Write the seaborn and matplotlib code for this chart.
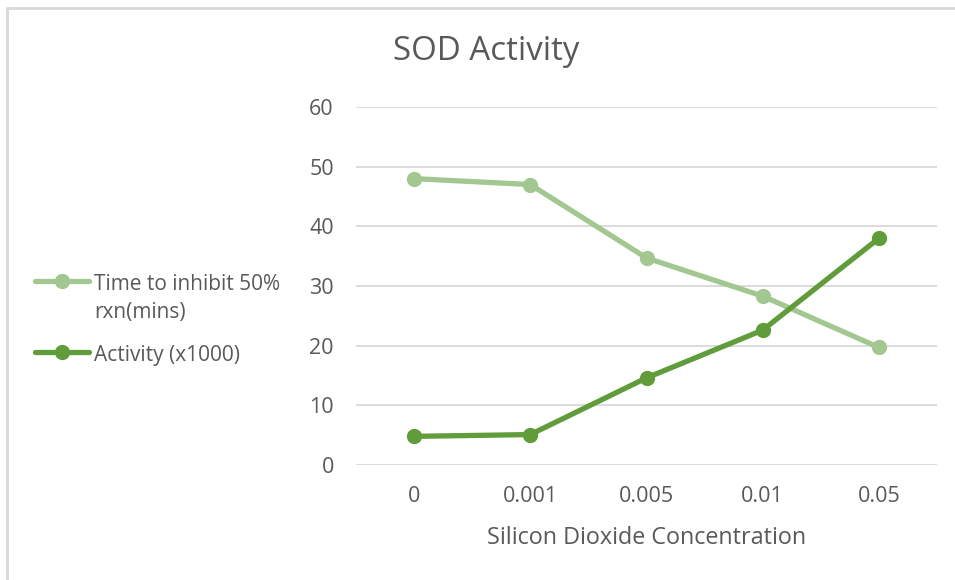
import matplotlib
matplotlib.use("Agg")
import matplotlib.pyplot as plt
import seaborn as sns
import pandas as pd
from matplotlib.lines import Line2D

# ---- data ----
concentrations = ["0", "0.001", "0.005", "0.01", "0.05"]
time_to_inhibit = [48.0, 47.0, 34.7, 28.3, 19.7]
activity = [4.8, 5.1, 14.6, 22.6, 38.0]
series_names = ["Time to inhibit 50%\nrxn(mins)", "Activity (x1000)"]
y_ticks = [0, 10, 20, 30, 40, 50, 60]
title = "SOD Activity"
x_title = "Silicon Dioxide Concentration"

light_green = "#A2C790"
dark_green = "#609C3A"
text_grey = "#595959"
grid_grey = "#D9D9D9"

sns.set_theme(style="white")
plt.rcParams['font.family'] = ['Open Sans', 'DejaVu Sans']

df = pd.DataFrame({
    "Concentration": concentrations * 2,
    "Value": time_to_inhibit + activity,
    "Series": [series_names[0]] * len(concentrations) + [series_names[1]] * len(concentrations),
})

W, H = 955, 580
fig = plt.figure(figsize=(W / 100, H / 100), dpi=100)
ax = fig.add_axes([356 / W, 1 - 465 / H, (937 - 356) / W, (465 - 107) / H])

sns.lineplot(data=df, x="Concentration", y="Value", hue="Series",
             palette=[light_green, dark_green], marker="o", markersize=11,
             linewidth=3.8, markeredgewidth=0, ax=ax, legend=False, sort=False)

ax.set_xlim(-0.5, len(concentrations) - 0.5)
ax.set_ylim(0, 60)
ax.set_yticks(y_ticks)
ax.set_xticks(range(len(concentrations)))
ax.set_xticklabels(concentrations)
for s in ax.spines.values():
    s.set_visible(False)
ax.grid(axis="y", color=grid_grey, linewidth=1.3)
ax.set_axisbelow(True)
ax.tick_params(axis="both", length=0, labelsize=15.5, colors=text_grey)
ax.tick_params(axis="y", pad=16)
ax.tick_params(axis="x", pad=15)
ax.set_ylabel("")
ax.set_xlabel(x_title, fontsize=16.8, color=text_grey, labelpad=14)

handles = ax.get_lines()[:2]
leg = fig.legend(handles, series_names, loc="upper left",
                 bbox_to_anchor=(35 / W, 1 - 274 / H), bbox_transform=fig.transFigure,
                 frameon=False, fontsize=15, handlelength=2.6, handletextpad=0.22,
                 labelspacing=1.05, borderaxespad=0, borderpad=0)
for t in leg.get_texts():
    t.set_color(text_grey)
    t.set_linespacing(1.45)
for col in leg._legend_handle_box.get_children():
    for row in col.get_children():
        row.align = "top"

fig.text(486 / W, 1 - 52 / H, title, ha="center", va="center", fontsize=23.8, color=text_grey)

# outer chart frame (left and top edges visible)
fig.add_artist(Line2D([7 / W, 7 / W], [0, 1 - 8 / H], transform=fig.transFigure,
                      color=grid_grey, linewidth=2))
fig.add_artist(Line2D([7 / W, 1], [1 - 8 / H, 1 - 8 / H], transform=fig.transFigure,
                      color=grid_grey, linewidth=2))

fig.savefig("out.png", dpi=100)
